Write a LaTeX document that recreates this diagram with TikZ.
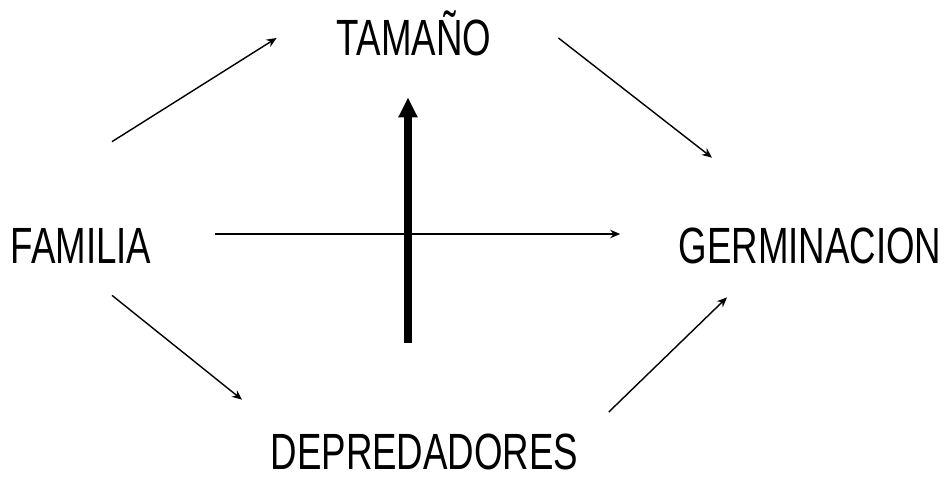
\documentclass[tikz,border=0pt]{standalone}
\usepackage{fontspec}
\setmainfont{Liberation Sans}
\usepackage{tikz}
\usetikzlibrary{positioning,arrows.meta,calc}
\newcommand{\narrow}[1]{\scalebox{0.72}[1]{#1}}

\begin{document}
\begin{tikzpicture}[
    x=0.02cm, y=-0.02cm,
    concept/.style={inner sep=0pt, anchor=base, text height=0.74cm, text depth=0pt, font=\fontsize{29}{34}\selectfont},
    arrow/.style={-{Stealth[length=2mm, width=1.7mm]}, line width=0.8pt},
    bigarrow/.style={-{Triangle[length=4mm, width=3.6mm]}, line width=4.5pt}
]
\useasboundingbox (0,0) rectangle (951,478);
\node[concept] (fam) at (81,263) {\narrow{FAMILIA}};
\node[concept] (tam) at (414,55) {\narrow{TAMAÑO}};
\node[concept] (ger) at (810,263) {\narrow{GERMINACION}};
\node[concept] (dep) at (424.5,469) {\narrow{DEPREDADORES}};
\draw[arrow] ($(fam.north)+(31,-84)$) -- ($(tam.west)+(-60,1.5)$);
\draw[arrow] ($(tam.east)+(67,1.5)$) -- ($(ger.north)+(-98,-68)$);
\draw[arrow] ($(fam.east)+(63,-10.5)$) -- ($(ger.west)+(-58,-10.5)$);
\draw[arrow] ($(fam.south)+(31,32)$) -- ($(dep.north)+(-182.5,-32)$);
\draw[arrow] ($(dep.east)+(30,-38.5)$) -- ($(ger.south)+(-83,34)$);
\draw[bigarrow] ($(dep.north)+(-16.5,-89)$) -- ($(tam.south)+(-6,42)$);
\end{tikzpicture}
\end{document}
